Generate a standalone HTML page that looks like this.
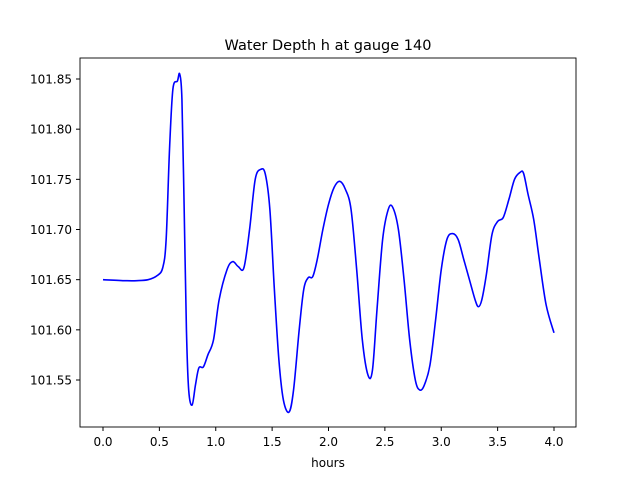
<!DOCTYPE html>
<html><head><meta charset="utf-8"><style>
body{margin:0;background:#fff;font-family:"Liberation Sans","DejaVu Sans",sans-serif;}
svg text{font-family:"DejaVu Sans","Liberation Sans",sans-serif;}
</style></head><body>
<svg id="chart" width="640" height="480" xmlns="http://www.w3.org/2000/svg">
<rect width="640" height="480" fill="#fff"/>
<text x="328" y="50" font-size="14.5" text-anchor="middle">Water Depth h at gauge 140</text>
<g id="ticks"></g>
<path id="line" fill="none" stroke="#0000ff" stroke-width="1.6"/>
<rect x="80" y="58" width="496" height="369" fill="none" stroke="#000" stroke-width="0.9"/>
<text x="328" y="467" font-size="12" text-anchor="middle">hours</text>
</svg>
<script>
const hours=[0,0.2,0.3,0.4,0.48,0.53,0.56,0.59,0.62,0.66,0.68,0.70,0.72,0.74,0.76,0.79,0.82,0.85,0.89,0.93,0.98,1.03,1.10,1.15,1.20,1.25,1.30,1.35,1.40,1.44,1.48,1.52,1.56,1.60,1.65,1.69,1.74,1.78,1.82,1.86,1.90,1.95,2.00,2.05,2.10,2.15,2.20,2.25,2.30,2.35,2.39,2.43,2.48,2.53,2.57,2.62,2.67,2.72,2.77,2.81,2.85,2.90,2.95,3.00,3.05,3.10,3.15,3.20,3.25,3.30,3.33,3.36,3.40,3.45,3.50,3.55,3.60,3.65,3.70,3.73,3.77,3.82,3.87,3.93,4.00];
const depth=[101.650,101.649,101.649,101.650,101.654,101.662,101.69,101.78,101.84,101.848,101.855,101.83,101.72,101.60,101.54,101.525,101.545,101.562,101.563,101.575,101.59,101.63,101.66,101.668,101.663,101.662,101.70,101.75,101.76,101.755,101.72,101.64,101.57,101.53,101.518,101.54,101.60,101.64,101.652,101.653,101.67,101.70,101.725,101.742,101.748,101.74,101.72,101.66,101.59,101.555,101.56,101.62,101.69,101.72,101.722,101.70,101.65,101.59,101.55,101.54,101.545,101.565,101.61,101.66,101.69,101.696,101.69,101.67,101.65,101.63,101.623,101.63,101.655,101.695,101.708,101.712,101.73,101.75,101.757,101.756,101.735,101.71,101.67,101.625,101.597];
const xTicks=[0,0.5,1,1.5,2,2.5,3,3.5,4];
const xTickLabels=["0.0","0.5","1.0","1.5","2.0","2.5","3.0","3.5","4.0"];
const yTicks=[101.55,101.60,101.65,101.70,101.75,101.80,101.85];
const yTickLabels=["101.55","101.60","101.65","101.70","101.75","101.80","101.85"];
const xs=v=>103+v*112.75;
const ys=v=>380-(v-101.55)*1003.3;
const NS="http://www.w3.org/2000/svg";
const g=document.getElementById('ticks');
function mk(t,a){const e=document.createElementNS(NS,t);for(const k in a)e.setAttribute(k,a[k]);return e;}
xTicks.forEach((v,i)=>{
 const l=mk('line',{x1:xs(v),x2:xs(v),y1:427,y2:431,stroke:'#000'});
 
 
 g.appendChild(l);
 const t=mk('text',{x:xs(v),y:446,'font-size':12,'text-anchor':'middle'});
 t.textContent=xTickLabels[i];
 
 
 g.appendChild(t);
});
yTicks.forEach((v,i)=>{
 const l=mk('line',{x1:76,x2:80,y1:ys(v),y2:ys(v),stroke:'#000'});
 
 
 g.appendChild(l);
 const t=mk('text',{x:72,y:ys(v)+4.5,'font-size':12,'text-anchor':'end'});
 t.textContent=yTickLabels[i];
 
 
 g.appendChild(t);
});
const pts=hours.map((h,i)=>[xs(h),ys(depth[i])]);
let d='M'+pts[0][0]+','+pts[0][1];
for(let i=0;i<pts.length-1;i++){
 const p0=pts[Math.max(0,i-1)],p1=pts[i],p2=pts[i+1],p3=pts[Math.min(pts.length-1,i+2)];
 const c1=[p1[0]+(p2[0]-p0[0])/6,p1[1]+(p2[1]-p0[1])/6];
 const c2=[p2[0]-(p3[0]-p1[0])/6,p2[1]-(p3[1]-p1[1])/6];
 d+=` C${c1[0]},${c1[1]} ${c2[0]},${c2[1]} ${p2[0]},${p2[1]}`;
}
document.getElementById('line').setAttribute('d',d);
</script>
</body></html>
